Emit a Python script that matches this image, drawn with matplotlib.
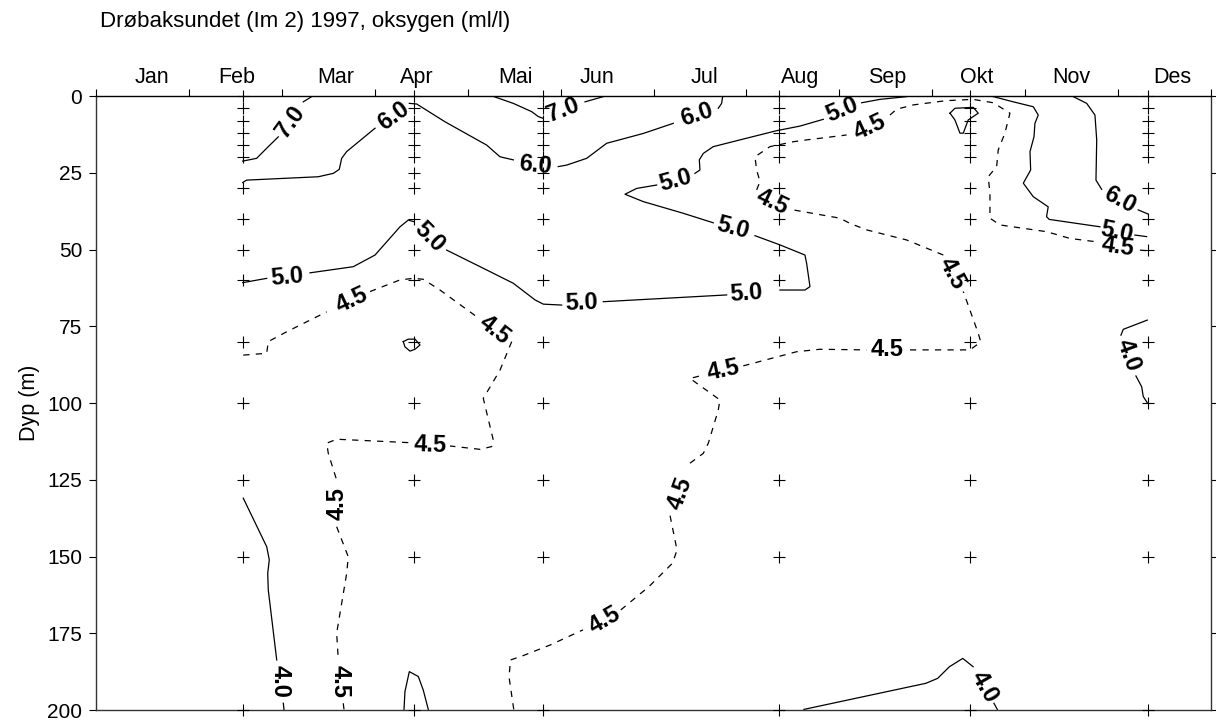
import numpy as np
import matplotlib
matplotlib.use("Agg")
import matplotlib.pyplot as plt

plt.rcParams['font.family'] = ['Liberation Sans', 'DejaVu Sans']
nan = np.nan

title = "Drøbaksundet (Im 2) 1997, oksygen (ml/l)"
months = ["Jan", "Feb", "Mar", "Apr", "Mai", "Jun", "Jul", "Aug", "Sep", "Okt", "Nov", "Des"]
month_label_pos = [0.60, 1.51, 2.58, 3.45, 4.51, 5.39, 6.55, 7.58, 8.51, 9.48, 10.50, 11.58]

# sampling stations (time in months since 1 Jan) and depths (m)
station_time = [1.58, 3.42, 4.81, 7.35, 9.41, 11.32]
station_depths = [0, 4, 8, 12, 16, 20, 30, 40, 50, 60, 80, 100, 125, 150, 200]
extra_depth_stations = [3.42, 4.81]   # stations that also sampled 25 m

# contour isolines (time [months], depth [m]); NaN = gap for label
c70_left_x = [1.579, 1.729, 1.854, 1.962, nan, 2.231, 2.321]
c70_left_y = [21.2, 20.3, 16.5, 13.3, nan, 1.9, 0.2]

c60_left_x = [1.579, 1.62, 2.393, 2.554, 2.618, 2.644, 2.698, 3.003, nan, 3.372, 3.451, 3.756, 4.205, 4.348,
              4.491, nan, 4.975, 5.066, 5.281, 5.496, 5.890, 6.213, nan, 6.697, 6.733, 6.744]
c60_left_y = [28.2, 27.4, 26.3, 25.2, 23.9, 20.3, 18.1, 10.5, nan, 2.4, 2.6, 8.4, 16.0, 19.8,
              20.8, nan, 23.0, 22.5, 20.3, 15.4, 12.2, 8.9, nan, 4.0, 2.4, 0.2]

c70_mid_x = [4.283, 4.491, 4.689, 4.760, 4.814, nan, 5.263, 5.460]
c70_mid_y = [0.2, 2.4, 5.1, 6.7, 7.3, nan, 1.9, 0.2]

c50_main_x = [1.579, 1.837, nan, 2.303, 2.769, 3.003, 3.272, 3.361, 3.415, nan, 3.774, 4.240, 4.491, 4.724,
              4.814, 5.012, nan, 5.460, 6.787, nan, 7.361, 7.630, 7.684, 7.648, 7.630, 7.361, 7.092, nan,
              6.643, 6.320, 5.890, 5.693, 5.819, 6.034, nan, 6.446, 6.500, 6.493, 6.536, 6.643, 6.930,
              7.325, 7.576, 7.827, nan, 8.240, 8.437, 8.725]
c50_main_y = [60.8, 59.4, nan, 57.6, 55.6, 51.8, 42.6, 40.4, 40.9, nan, 50.2, 57.2, 61.0, 66.4,
              67.8, 68.1, nan, 67.0, 64.8, nan, 63.2, 63.2, 62.1, 54.5, 51.8, 48.5, 45.5, nan,
              41.3, 38.2, 34.4, 32.0, 30.1, 29.0, nan, 25.2, 24.1, 20.8, 18.7, 16.5, 14.3,
              11.3, 9.8, 7.6, nan, 2.2, 1.1, 0.2]

c50_right_x = [9.657, 9.872, 10.087, 10.141, 10.105, 10.095, 10.052, 10.059, 9.980, 10.087, 10.248,
               10.230, 10.259, 10.805, nan, 11.181, 11.307]
c50_right_y = [0.2, 1.9, 3.5, 6.2, 8.9, 13.3, 18.1, 24.1, 28.4, 32.8, 36.1,
               39.3, 40.2, 42.6, nan, 45.3, 45.8]

c60_right_x = [10.518, 10.662, 10.751, 10.770, 10.762, 10.823, nan, 11.217, 11.318]
c60_right_y = [0.2, 2.4, 6.2, 14.3, 27.4, 30.4, nan, 37.1, 38.4]

c45_left_x = [1.585, 1.837, 1.854, 2.052, 2.483, nan, 2.949, 3.272, 3.415, 3.522, 3.702, 4.097, nan,
              4.474, 4.348, 4.168, 4.276, 4.258, 4.133, 3.810, nan, 3.361, 2.590, 2.483, 2.500, 2.590, nan,
              2.590, 2.715, 2.698, 2.590, 2.608, nan, 2.661, 2.669]
c45_left_y = [84.4, 83.8, 80.0, 76.8, 70.3, nan, 63.7, 59.9, 59.4, 59.7, 63.2, 71.9, nan,
              80.0, 89.3, 98.5, 112.1, 114.2, 115.1, 114.0, nan, 112.9, 111.8, 113.1, 116.4, 125.1, nan,
              140.3, 150.1, 155.5, 175.0, 183.7, nan, 197.8, 199.8]

c45_main_x = [4.496, 4.445, 4.461, 4.588, 4.890, 5.241, nan, 5.648, 5.951, 6.204, 6.253, 6.177, nan,
              6.393, 6.536, 6.590, 6.697, 6.715, 6.393, 6.536, nan, 6.966, 7.540, 7.791, 8.293, nan,
              8.760, 9.406, 9.478, 9.521, 9.495, 9.334, nan, 9.119, 8.725, 8.293, 8.114, 8.007, 7.504, nan,
              7.110, 7.146, 7.110, 7.092, 7.253, 7.504, 7.648, 8.078, nan, 8.545, 8.617, 8.796, 9.154,
              9.441, 9.657, 9.836, 9.782, 9.710, 9.693, 9.602, 9.621, 9.621, 9.729, 10.231, 10.482,
              10.769, nan, 11.235, 11.318]
c45_main_y = [199.8, 189.2, 183.7, 182.4, 178.8, 173.9, nan, 167.4, 159.8, 152.2, 147.9, 136.5, nan,
              119.6, 116.4, 113.1, 102.3, 99.0, 92.0, 90.9, nan, 87.9, 83.3, 82.5, 82.7, nan,
              82.7, 82.7, 81.1, 80.0, 77.3, 63.7, nan, 51.8, 46.9, 43.6, 41.5, 39.8, 37.1, nan,
              30.6, 27.9, 24.1, 19.8, 16.5, 14.9, 14.3, 12.7, nan, 6.2, 4.3, 2.9, 1.5,
              1.1, 2.2, 5.6, 12.1, 17.6, 23.0, 26.3, 31.7, 39.8, 42.0, 44.2, 46.4,
              47.5, nan, 50.2, 50.4]

c40_left_x = [1.585, 1.837, 1.865, 1.848, 1.854, 1.945, nan, 2.016, 2.023]
c40_left_y = [131.0, 146.8, 151.1, 155.5, 160.9, 183.7, nan, 197.8, 199.8]

c40_bottom_x = [7.619, 8.932, 9.058, 9.185, 9.328, 9.440, nan, 9.664, 9.700]
c40_bottom_y = [199.8, 191.3, 189.7, 185.9, 183.2, 185.9, nan, 197.8, 199.8]

c40_right_x = [11.314, 11.056, 11.031, nan, 11.192, 11.254, 11.271, 11.314]
c40_right_y = [73.0, 76.0, 77.9, nan, 91.2, 94.7, 97.9, 99.9]

loop_okt_x = [9.191, 9.244, 9.441, 9.495, 9.441, 9.387, 9.334, 9.298, 9.244, 9.191]
loop_okt_y = [5.6, 4.0, 3.7, 5.6, 6.7, 7.8, 12.1, 12.1, 7.8, 5.6]
loop_apr_x = [3.307, 3.361, 3.433, 3.487, 3.433, 3.379, 3.325, 3.307]
loop_apr_y = [80.0, 79.2, 79.2, 81.1, 82.5, 83.1, 81.7, 80.0]
loop_bot_x = [3.315, 3.325, 3.372, 3.469, 3.522, 3.576]
loop_bot_y = [199.8, 194.0, 187.5, 189.1, 193.5, 199.8]

solid_lines = [(c70_left_x, c70_left_y), (c60_left_x, c60_left_y), (c70_mid_x, c70_mid_y),
               (c50_main_x, c50_main_y), (c50_right_x, c50_right_y), (c60_right_x, c60_right_y),
               (c40_left_x, c40_left_y), (c40_bottom_x, c40_bottom_y), (c40_right_x, c40_right_y),
               (loop_okt_x, loop_okt_y), (loop_apr_x, loop_apr_y), (loop_bot_x, loop_bot_y)]
dashed_lines = [(c45_left_x, c45_left_y), (c45_main_x, c45_main_y)]

# contour labels: time, depth, text, angle
label_x = [2.088, 3.20, 4.724, 6.464, 5.029,
           2.052, 3.594, 5.227, 7.002, 6.858, 6.231, 8.025,
           10.984, 11.020,
           2.752, 4.294, 3.594, 2.590, 2.626,
           5.471, 6.285, 6.751, 8.509, 9.209, 7.275, 8.330, 11.002,
           1.980, 9.564, 11.110]
label_y = [8.4, 6.7, 22.5, 6.2, 4.6,
           58.9, 45.8, 67.5, 64.3, 43.1, 27.4, 4.6,
           44.2, 33.9,
           66.4, 76.2, 113.7, 132.7, 190.8,
           170.7, 129.4, 89.3, 82.7, 57.8, 34.5, 10.0, 49.1,
           190.8, 192.4, 84.4]
label_txt = ["7.0", "6.0", "6.0", "6.0", "7.0",
             "5.0", "5.0", "5.0", "5.0", "5.0", "5.0", "5.0",
             "5.0", "6.0",
             "4.5", "4.5", "4.5", "4.5", "4.5",
             "4.5", "4.5", "4.5", "4.5", "4.5", "4.5", "4.5", "4.5",
             "4.0", "4.0", "4.0"]
label_rot = [54, 36, -6, 18, 21,
             5, -45, 2, 4, -15, 15, 22,
             -12, -28,
             25, -38, -2, 90, -90,
             30, 70, 12, 0, -62, -25, 25, -8,
             -90, -60, -70]

fig = plt.figure(figsize=(12.16, 7.2), dpi=100)
ax = fig.add_axes([96 / 1216, 10 / 720, 1115 / 1216, 614 / 720])

for xs, ys in solid_lines:
    ax.plot(xs, ys, color='black', lw=0.9, solid_joinstyle='round')
for xs, ys in dashed_lines:
    ax.plot(xs, ys, color='black', lw=0.9, dashes=(5, 5))

for xt, yt, tt, rt in zip(label_x, label_y, label_txt, label_rot):
    ax.text(xt, yt, tt, rotation=rt, rotation_mode='anchor', ha='center', va='center',
            fontsize=17, fontweight='bold', color='black')

# station markers
sx, sy = [], []
for t in station_time:
    ds = list(station_depths)
    if t in extra_depth_stations:
        ds.append(25)
    for d in ds:
        sx.append(t)
        sy.append(d)
ax.plot(sx, sy, linestyle='none', marker='+', markersize=8, mew=0.8, color='black', clip_on=False, zorder=3)

ax.set_xlim(0, 12)
ax.set_ylim(200, 0)

ax.xaxis.tick_top()
ax.set_xticks(range(0, 13))
ax.set_xticklabels([])
ax.set_xticks(month_label_pos, minor=True)
ax.set_xticklabels(months, minor=True)
ax.tick_params(axis='x', which='major', direction='out', length=5, width=0.8, top=True, bottom=False)
ax.tick_params(axis='x', which='minor', length=0, pad=6, labelsize=15.5, top=True, bottom=False)

ax.set_yticks(range(0, 201, 25))
ax.tick_params(axis='y', which='major', direction='out', length=5, width=0.8, pad=5,
               labelsize=15, left=True, right=True)
ax.set_ylabel("Dyp (m)", fontsize=15.5, labelpad=5)

for side in ['left', 'right', 'top', 'bottom']:
    ax.spines[side].set_linewidth(1.0)
    ax.spines[side].set_color('#333333')
ax.spines['top'].set_color('black')

fig.text(100 / 1216, 1 - 21 / 720, title, fontsize=16, ha='left', va='center')

fig.savefig("out.png", dpi=100)
